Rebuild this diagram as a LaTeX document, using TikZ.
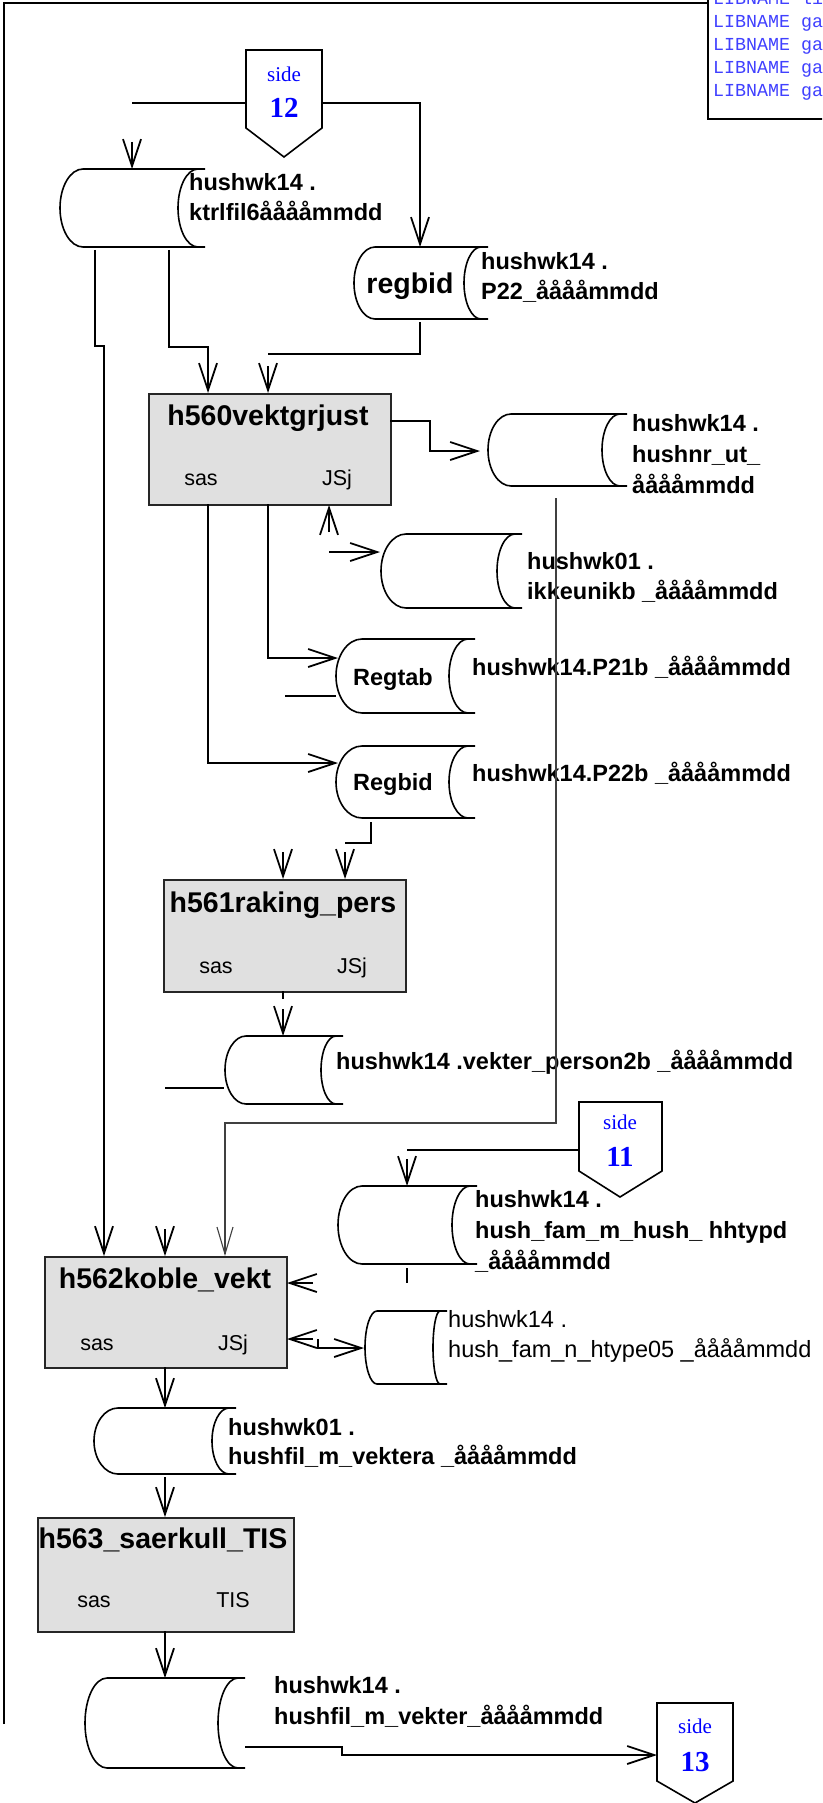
\documentclass[tikz,border=0pt]{standalone}
\usepackage{fontspec}
\setmainfont{Liberation Sans}
\newfontfamily\sidefont{Liberation Serif}
\newfontfamily\libmono{Liberation Mono}
\usetikzlibrary{arrows.meta}
\definecolor{boxgray}{RGB}{224,224,224}
\definecolor{libblue}{RGB}{64,64,255}
\definecolor{sideblue}{RGB}{0,0,255}
\newcommand{\storedshape}[6]{%
  \pgfmathsetmacro\rl{#2-#1}%
  \pgfmathsetmacro\rr{#3-7-#4}%
  \pgfmathsetmacro\hh{(#6-#5)/2}%
  \pgfmathsetmacro\ym{(#6+#5)/2}%
  \pgfmathsetmacro\xs{#3-7}%
  \draw[cyl] (#3,#5) -- (#2,#5)
     .. controls (#2-0.552*\rl,#5) and (#1,\ym-0.552*\hh) .. (#1,\ym)
     .. controls (#1,\ym+0.552*\hh) and (#2-0.552*\rl,#6) .. (#2,#6) -- (#3,#6);
  \draw[cyl] (\xs,#5) .. controls (\xs-0.552*\rr,#5) and (#4,\ym-0.552*\hh) .. (#4,\ym)
     .. controls (#4,\ym+0.552*\hh) and (\xs-0.552*\rr,#6) .. (\xs,#6);
}
\begin{document}
\begin{tikzpicture}[x=1pt,y=-1pt,
  conn/.style={line width=1.8pt},
  arr/.style={conn,-{Straight Barb[length=27pt,width=18pt]}},
  thinarr/.style={line width=1.1pt,draw=black!75,-{Straight Barb[length=27pt,width=16pt]}},
  cyl/.style={line width=1.6pt},
  proc/.style={draw=black!85,line width=2.4pt,fill=boxgray,inner sep=0,anchor=north west},
  lbl/.style={font=\fontsize{23.5}{28}\selectfont\bfseries,inner sep=0,anchor=base west},
  lblr/.style={font=\fontsize{23.5}{28}\selectfont,inner sep=0,anchor=base west},
  cylt/.style={font=\fontsize{23.5}{28}\selectfont\bfseries,inner sep=0,anchor=base},
  ttl/.style={font=\fontsize{28.5}{34}\selectfont\bfseries,inner sep=0,anchor=base},
  sml/.style={font=\fontsize{21.5}{26}\selectfont,inner sep=0,anchor=base},
  sidet/.style={font=\sidefont\fontsize{21}{24}\selectfont,text=sideblue,inner sep=0,anchor=base},
  sidenum/.style={font=\sidefont\fontsize{29}{32}\selectfont\bfseries,text=sideblue,inner sep=0,anchor=base},
  lib/.style={font=\libmono\fontsize{18.3}{22}\selectfont,text=libblue,inner sep=0,anchor=base west},
  pent/.style={line width=1.6pt,fill=white}
]
\useasboundingbox (0,0) rectangle (822,1803);
\clip (0,0) rectangle (822,1803);
\fill[white] (0,0) rectangle (822,1803);

% frame
\draw[line width=2pt] (4,1724) -- (4,3) -- (708,3);
% LIBNAME box
\draw[line width=1.5pt] (708,-5) -- (708,119) -- (830,119);
\node[lib] (lib0) at (713,4.5) {LIBNAME li};
\node[lib] (lib1) at (713,27.5) {LIBNAME ga};
\node[lib] (lib2) at (713,50.5) {LIBNAME ga};
\node[lib] (lib3) at (713,73.5) {LIBNAME ga};
\node[lib] (lib4) at (713,96.5) {LIBNAME ga};

% side 12
\draw[pent] (246,50) -- (322,50) -- (322,128) -- (284,157) -- (246,128) -- cycle;
\node[sidet] (s12a) at (284,82) {side};
\node[sidenum] (s12b) at (284,118) {12};
\coordinate (s12w) at (246,103);
\coordinate (s12e) at (322,103);
% side 11
\draw[pent] (579,1102) -- (662,1102) -- (662,1171) -- (620,1197) -- (579,1171) -- cycle;
\node[sidet] (s11a) at (620,1129) {side};
\node[sidenum] (s11b) at (620,1166) {11};
\coordinate (s11w) at (579,1150);
% side 13
\draw[pent] (657,1703) -- (733,1703) -- (733,1781) -- (695,1803) -- (657,1781) -- cycle;
\node[sidet] (s13a) at (695,1733) {side};
\node[sidenum] (s13b) at (695,1771) {13};
\coordinate (s13w) at (657,1755);

% stored data shapes
\storedshape{60}{83}{205}{178}{169}{247}
\node[lbl] (k1a) at (189,190.5) {hushwk14 .};
\node[lbl] (k1b) at (189,220.5) {ktrlfil6ååååmmdd};

\storedshape{354}{375}{488}{464}{247}{319}
\node[ttl] (k2t) at (410,293) {regbid};
\node[lbl] (k2a) at (481,269.5) {hushwk14 .};
\node[lbl] (k2b) at (481,299.5) {P22\_ååååmmdd};

\storedshape{488}{511}{627}{602}{414}{486}
\node[lbl] (k3a) at (632,431.5) {hushwk14 .};
\node[lbl] (k3b) at (632,462.5) {hushnr\_ut\_};
\node[lbl] (k3c) at (632,493.5) {ååååmmdd};

\storedshape{381}{406}{522}{497}{534}{608}
\node[lbl] (k4a) at (527,569.5) {hushwk01 .};
\node[lbl] (k4b) at (527,599.5) {ikkeunikb \_ååååmmdd};

\storedshape{336}{362}{475}{449}{639}{713}
\node[cylt] (k5t) at (393,685) {Regtab};
\node[lbl] (k5a) at (472,675.5) {hushwk14.P21b \_ååååmmdd};

\storedshape{336}{362}{475}{449}{746}{818}
\node[cylt] (k6t) at (393,790) {Regbid};
\node[lbl] (k6a) at (472,781.5) {hushwk14.P22b \_ååååmmdd};

\storedshape{225}{246}{343}{321}{1036}{1104}
\node[lbl] (k7a) at (336,1069.5) {hushwk14 .vekter\_person2b \_ååååmmdd};

\storedshape{338}{362}{477}{452}{1186}{1264}
\node[lbl] (k8a) at (475,1207.5) {hushwk14 .};
\node[lbl] (k8b) at (475,1238.5) {hush\_fam\_m\_hush\_ hhtypd};
\node[lbl] (k8c) at (475,1269.5) {\_ååååmmdd};

\storedshape{365}{377}{447}{433}{1311}{1384}
\node[lblr] (k9a) at (448,1327.5) {hushwk14 .};
\node[lblr] (k9b) at (448,1357.5) {hush\_fam\_n\_htype05 \_ååååmmdd};

\storedshape{94}{118}{236}{212}{1408}{1474}
\node[lbl] (k10a) at (228,1435.5) {hushwk01 .};
\node[lbl] (k10b) at (228,1464.5) {hushfil\_m\_vektera \_ååååmmdd};

\storedshape{85}{107}{245}{218}{1678}{1768}
\node[lbl] (k11a) at (274,1693.5) {hushwk14 .};
\node[lbl] (k11b) at (274,1724.5) {hushfil\_m\_vekter\_ååååmmdd};

% process boxes
\node[proc,minimum width=242pt,minimum height=111pt] (h560) at (148,393) {};
\node[ttl] (h560t) at (268,425) {h560vektgrjust};
\node[sml] (h560s) at (201,485) {sas};
\node[sml] (h560j) at (337,485) {JSj};

\node[proc,minimum width=242pt,minimum height=112pt] (h561) at (163,879) {};
\node[ttl] (h561t) at (283,912) {h561raking\_pers};
\node[sml] (h561s) at (216,973) {sas};
\node[sml] (h561j) at (352,973) {JSj};

\node[proc,minimum width=242pt,minimum height=111pt] (h562) at (44,1256) {};
\node[ttl] (h562t) at (165,1288) {h562koble\_vekt};
\node[sml] (h562s) at (97,1350) {sas};
\node[sml] (h562j) at (233,1350) {JSj};

\node[proc,minimum width=256pt,minimum height=114pt] (h563) at (37,1517) {};
\node[ttl] (h563t) at (163,1548) {h563\_saerkull\_TIS};
\node[sml] (h563s) at (94,1607) {sas};
\node[sml] (h563j) at (233,1607) {TIS};

% connectors
\draw[conn] (s12w) -- (132,103);
\draw[arr] (132,142) -- (132,169);
\draw[arr] (s12e) -- (420,103) -- (420,247);
\draw[arr] (95,250) -- (95,346) -- (104,346) -- (104,1256);
\draw[arr] (169,250) -- (169,347) -- (208,347) -- (208,393);
\draw[conn] (420,322) -- (420,354) -- (268,354);
\draw[arr] (268,366) -- (268,393);
\draw[arr] (390,421) -- (430,421) -- (430,451) -- (480,451);
\draw[thinarr] (556,498) -- (556,1123) -- (225,1123) -- (225,1256);
\draw[arr] (329,532) -- (329,505);
\draw[arr] (329,552) -- (380,552);
\draw[arr] (268,504) -- (268,658) -- (338,658);
\draw[conn] (285,696) -- (336,696);
\draw[arr] (208,504) -- (208,763) -- (338,763);
\draw[conn] (371,822) -- (371,843) -- (345,843);
\draw[arr] (345,852) -- (345,879);
\draw[arr] (283,852) -- (283,879);
\draw[conn] (283,991) -- (283,999);
\draw[arr] (283,1009) -- (283,1036);
\draw[conn] (165,1088) -- (224,1088);
\draw[conn] (s11w) -- (407,1150);
\draw[arr] (407,1159) -- (407,1186);
\draw[conn] (407,1268) -- (407,1283);
\draw[arr] (313,1283) -- (287,1283);
\draw[arr] (165,1229) -- (165,1256);
\draw[arr] (313,1339) -- (287,1339);
\draw[arr] (318,1339) -- (318,1348) -- (364,1348);
\draw[arr] (165,1367) -- (165,1408);
\draw[arr] (165,1477) -- (165,1517);
\draw[arr] (165,1631) -- (165,1678);
\draw[arr] (245,1747) -- (342,1747) -- (342,1755) -- (s13w);
\end{tikzpicture}
\end{document}
